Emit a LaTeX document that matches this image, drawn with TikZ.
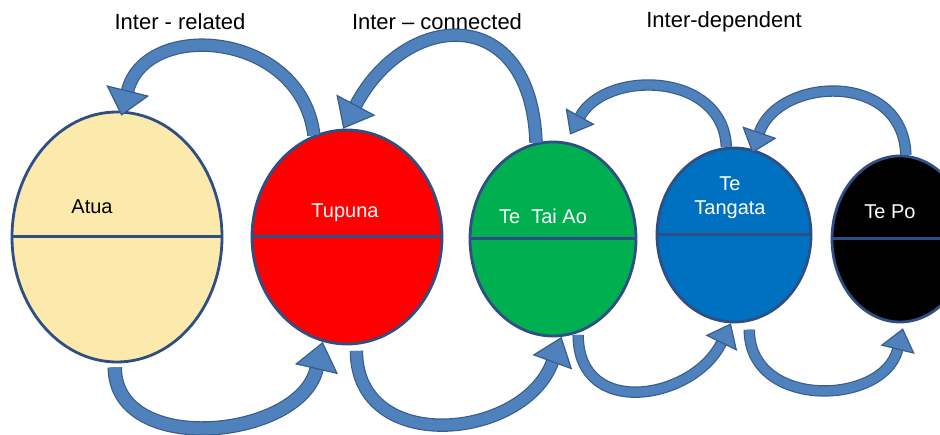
\documentclass[tikz,border=0pt]{standalone}
\usepackage{fontspec}
\setmainfont{Liberation Sans}
\usetikzlibrary{arrows.meta,shapes.geometric,positioning}

\definecolor{orbline}{RGB}{46,78,132}
\definecolor{atuacream}{RGB}{252,233,172}
\definecolor{tupunared}{RGB}{255,0,0}
\definecolor{taiaogreen}{RGB}{0,176,80}
\definecolor{tangatablue}{RGB}{0,112,192}
\definecolor{arrowfill}{RGB}{79,129,189}
\definecolor{arrowline}{RGB}{56,93,138}

\tikzset{
  orb/.style={ellipse, draw=orbline, line width=2.8pt, inner sep=0pt},
  midline/.style={draw=orbline, line width=3pt},
  orbtext/.style={font=\fontsize{20}{24}\selectfont, text=white, align=center},
  heading/.style={font=\fontsize{22}{26}\selectfont},
  swoop/.style args={#1/#2/#3}{draw=arrowline, line width=1.2pt, double=arrowfill,
    double distance=#1, -{Triangle[width=#2,length=#3,fill=arrowfill]}},
}

\begin{document}
\begin{tikzpicture}[x=1pt,y=1pt]
\useasboundingbox (0,0) rectangle (940,434);
\clip (0,0) rectangle (940,434);

% the five worlds
\node[orb, fill=atuacream, minimum width=210pt, minimum height=250pt] (atua) at (117,197) {};
\node[orb, fill=tupunared, minimum width=190pt, minimum height=214pt] (tupuna) at (347,197) {};
\node[orb, fill=taiaogreen, minimum width=166pt, minimum height=194pt] (taiao) at (553,195) {};
\node[orb, fill=tangatablue, minimum width=154pt, minimum height=174pt] (tangata) at (734,199) {};
\node[orb, fill=black, minimum width=136pt, minimum height=166pt] (tepo) at (900,195) {};

\foreach \w in {atua,tupuna,taiao,tangata,tepo}
  \draw[midline] (\w.west) -- (\w.east);

\node[orbtext, text=black] (atuatext) at (92,227) {Atua};
\node[orbtext] (tupunatext) at (345,221) {Tupuna};
\node[orbtext] (taiaotext) at (543,218) {Te~~Tai Ao};
\node[orbtext] (tangatatext) at (730,236) {Te\\Tangata};
\node[orbtext] (tepotext) at (890,222) {Te Po};

% headings
\node[heading] (related) at (180,412) {Inter - related};
\node[heading] (connected) at (437,412) {Inter -- connected};
\node[heading] (dependent) at (724,412) {Inter-dependent};

% arrows over the top, right to left
\draw[swoop=11pt/44pt/26pt] (tupuna.108) .. controls +(97:105) and +(76:100) .. ([yshift=-5pt]atua.88);
\draw[swoop=11pt/44pt/27pt] (taiao.100) .. controls +(92:140) and +(62:135) .. (tupuna.92);
\draw[swoop=9pt/33pt/21pt] (tangata.95) .. controls +(92:75) and +(61:75) .. ([yshift=8pt]taiao.80);
\draw[swoop=9pt/36pt/22pt] (tepo.86) .. controls +(92:85) and +(71:80) .. ([yshift=-4pt]tangata.78);

% arrows underneath, left to right
\draw[swoop=12pt/44pt/28pt] ([yshift=-4pt]atua.269) .. controls +(-90:90) and +(257:100) .. (tupuna.257);
\draw[swoop=11pt/42pt/27pt] ([yshift=-6pt]tupuna.275) .. controls +(-90:105) and +(250:110) .. (taiao.275);
\draw[swoop=9pt/35pt/22pt] ([yshift=-2pt]taiao.285) .. controls +(-90:85) and +(244:85) .. (tangata.268);
\draw[swoop=9pt/35pt/22pt] ([yshift=-8pt]tangata.280) .. controls +(-90:80) and +(256:80) .. ([yshift=-5pt]tepo.272);

\end{tikzpicture}
\end{document}
